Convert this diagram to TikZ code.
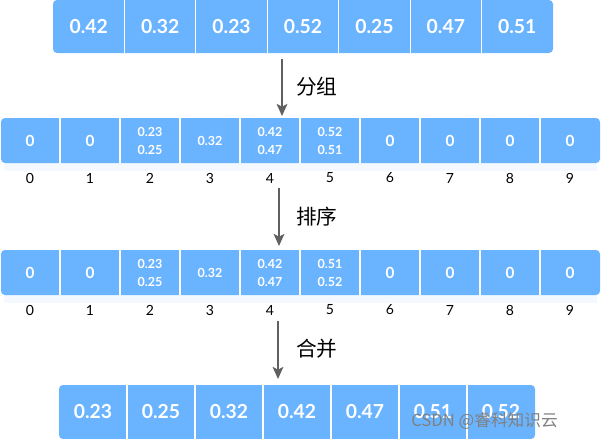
\documentclass[tikz,border=0pt]{standalone}
\usepackage{fontspec}
\setmainfont{Lato}
\newfontfamily\cjk{Noto Sans CJK SC}
\usetikzlibrary{arrows.meta}
\definecolor{cellblue}{HTML}{6AB4FF}
\definecolor{arrowgray}{HTML}{606060}

\begin{document}
\begin{tikzpicture}[x=0.75pt,y=-0.75pt,
    numbig/.style={text=white,font=\bfseries\fontsize{14.5}{16}\selectfont,inner sep=0pt},
    nummid/.style={text=white,font=\bfseries\fontsize{11.5}{13}\selectfont,inner sep=0pt},
    numsmall/.style={text=white,font=\bfseries\fontsize{9.4}{11}\selectfont,inner sep=0pt},
    idx/.style={font=\fontsize{10.5}{12}\selectfont,inner sep=0pt},
    steplabel/.style={font=\cjk\fontsize{15.5}{17}\selectfont,anchor=west,inner sep=0pt},
    flow/.style={draw=arrowgray,line width=1.5pt,-{Stealth[length=9pt,width=8pt,inset=2pt]}}]
\useasboundingbox (0,0) rectangle (601,439);

% Input array
  \fill[cellblue,rounded corners=3pt] (53,0) rectangle (553,53);
  \foreach \i in {1,...,6} {
    \draw[white,line width=0.8pt] (53+71.43*\i,0) -- ++(0,53);
  }
  \foreach \v [count=\i from 0] in {0.42,0.32,0.23,0.52,0.25,0.47,0.51} {
    \node[numbig] (in\i) at (53+71.43*\i+35.7,27) {\v};
  }

% Buckets, twice: after grouping (row a) and after sorting (row b)
  \foreach \r/\y in {a/118, b/250} {
    \fill[cellblue!8] (4,\y+45) rectangle (597,\y+53);
    \fill[cellblue,rounded corners=3pt] (1,\y) rectangle (600,\y+45);
    \foreach \i in {1,...,9} {
      \draw[white,line width=0.8pt] (60*\i,\y) -- ++(0,45);
    }
    \foreach \i in {0,1,6,7,8,9} {
      \node[nummid] (\r\i) at (60*\i+30,\y+22.5) {0};
    }
    \node[numsmall] (\r3) at (210,\y+22.5) {0.32};
    \foreach \i in {0,...,9} {
      \node[idx] (\r idx\i) at (60*\i+30,\y+60) {\i};
    }
  }
  \foreach \r/\y/\i/\j/\k in {a/118/2/0.23/0.25, a/118/4/0.42/0.47, a/118/5/0.52/0.51,
                             b/250/2/0.23/0.25, b/250/4/0.42/0.47, b/250/5/0.51/0.52} {
    \node[numsmall] (\r\i u) at (60*\i+30,\y+13.5) {\j};
    \node[numsmall] (\r\i l) at (60*\i+30,\y+32) {\k};
  }

% Output array
  \fill[cellblue,rounded corners=3pt] (59,385) rectangle (535,439);
  \foreach \i in {1,...,6} {
    \draw[white,line width=0.8pt] (59+68*\i,385) -- ++(0,54);
  }
  \foreach \v [count=\i from 0] in {0.23,0.25,0.32,0.42,0.47,0.51,0.52} {
    \node[numbig] (out\i) at (59+68*\i+34,412) {\v};
  }

% Steps
  \coordinate (s1) at (282,59);  \coordinate (e1) at (282,116);
  \coordinate (s2) at (279,188); \coordinate (e2) at (279,246);
  \coordinate (s3) at (278,321); \coordinate (e3) at (278,379);
  \draw[flow] (s1) -- (e1);
  \draw[flow] (s2) -- (e2);
  \draw[flow] (s3) -- (e3);
  \node[steplabel] (group) at (296,87) {分组};
  \node[steplabel] (sort) at (296,217) {排序};
  \node[steplabel] (merge) at (296,349) {合并};

  \node[anchor=east,text=gray,font=\cjk\fontsize{12.5}{14}\selectfont,inner sep=0pt] (mark) at (558,421) {CSDN @睿科知识云};
\end{tikzpicture}
\end{document}
